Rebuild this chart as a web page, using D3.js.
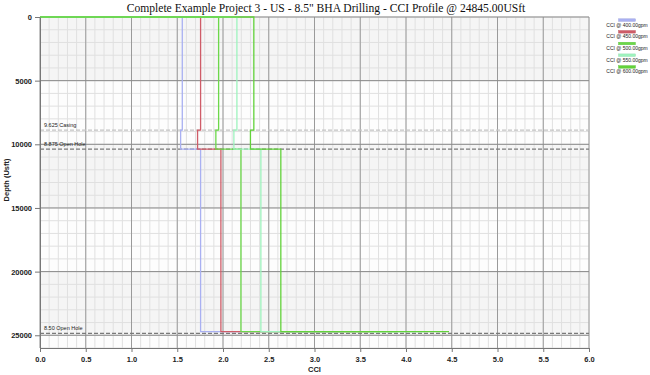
<!DOCTYPE html>
<html>
<head>
<meta charset="utf-8">
<script src="https://cdn.jsdelivr.net/npm/d3@7"></script>
<style>
  body { margin: 0; background: #fff; }
  svg { display: block; }
  .axis text { font-family: "Liberation Sans", Arial, sans-serif; font-size: 7.5px; fill: #222; }
  .axis path, .axis line { stroke: #777; }
</style>
</head>
<body>
<svg id="chart"></svg>
<script>
// flow rates (legend categories)
const flowRates = ["400.00", "450.00", "500.00", "550.00", "600.00"];
const colors = ["#a9b0f2", "#cf5c68", "#6cd84a", "#9ef3be", "#62d23a"];

// CCI per section for each flow rate
const cciSurface = [1.555, 1.755, 1.952, 2.152, 2.337];   // 0 -> casing shoe
const cciShoe    = [1.537, 1.722, 1.922, 2.119, 2.300];   // casing shoe -> 8.875 hole
const cciOpen    = [1.755, 1.977, 2.196, 2.414, 2.632];   // 8.875 -> 8.50 hole
const cciBottom  = [3.30, 3.60, 3.90, 4.20, 4.47];        // at bottom

// depths where the profile changes (USft)
const stepDepths = [0, 8880, 10380, 24720];

// hole sections
const sectionLabels = ["9.625 Casing", "8.875 Open Hole", "8.50 Open Hole"];
const sectionDepths = [8880, 10380, 24845];

const xTicks = [0, 0.5, 1, 1.5, 2, 2.5, 3, 3.5, 4, 4.5, 5, 5.5, 6];
const yTicks = [0, 5000, 10000, 15000, 20000, 25000];

let width = 650;
let height = 375;
let plot = { left: 40, right: 589, top: 17, bottom: 348 };

let svg = d3.select("#chart").attr("width", width).attr("height", height);

let xScale = d3.scaleLinear().domain([0, 6]).range([plot.left, plot.right]);
let yScale = d3.scaleLinear().domain([0, 26000]).range([plot.top, plot.bottom]);

// background bands
let bands = d3.range(0, 26000, 5000);
svg.append("g").selectAll("rect")
  .data(bands)
  .join("rect")
  .attr("x", plot.left)
  .attr("y", d => yScale(d))
  .attr("width", plot.right - plot.left)
  .attr("height", d => yScale(Math.min(d + 5000, 26000)) - yScale(d))
  .attr("fill", (d, i) => i % 2 ? "#fdfdfd" : "#f5f5f5");

// minor grid
let grid = svg.append("g");
grid.selectAll(".vminor")
  .data(xScale.ticks(60))
  .join("line")
  .attr("x1", d => xScale(d)).attr("x2", d => xScale(d))
  .attr("y1", plot.top).attr("y2", plot.bottom)
  .attr("stroke", "#e0e0e0");
grid.selectAll(".hminor")
  .data(yScale.ticks(26))
  .join("line")
  .attr("x1", plot.left).attr("x2", plot.right)
  .attr("y1", d => yScale(d)).attr("y2", d => yScale(d))
  .attr("stroke", "#e0e0e0");
// major grid
grid.selectAll(".vmajor")
  .data(xTicks)
  .join("line")
  .attr("x1", d => xScale(d)).attr("x2", d => xScale(d))
  .attr("y1", plot.top).attr("y2", plot.bottom)
  .attr("stroke", "#9a9a9a");
grid.selectAll(".hmajor")
  .data(yTicks)
  .join("line")
  .attr("x1", plot.left).attr("x2", plot.right)
  .attr("y1", d => yScale(d)).attr("y2", d => yScale(d))
  .attr("stroke", "#8a8a8a");

// hole section lines
let sections = svg.append("g");
sections.selectAll("line")
  .data(sectionDepths)
  .join("line")
  .attr("x1", plot.left).attr("x2", plot.right)
  .attr("y1", d => yScale(d)).attr("y2", d => yScale(d))
  .attr("stroke", (d, i) => i == 0 ? "#c4c4c4" : "#7a7a7a")
  .attr("stroke-width", 1.2)
  .attr("stroke-dasharray", "4,2");
sections.selectAll("text")
  .data(sectionDepths)
  .join("text")
  .attr("x", plot.left + 4)
  .attr("y", d => yScale(d) - 3)
  .attr("font-family", "Liberation Sans, Arial, sans-serif")
  .attr("font-size", 5.5)
  .attr("fill", "#222")
  .text((d, i) => sectionLabels[i]);

// CCI profiles
let line = d3.line()
  .x(d => xScale(d[0]))
  .y(d => yScale(d[1]));

flowRates.forEach((f, i) => {
  let pts = [
    [0, stepDepths[0]],
    [cciSurface[i], stepDepths[0]],
    [cciSurface[i], stepDepths[1]],
    [cciShoe[i], stepDepths[1]],
    [cciShoe[i], stepDepths[2]],
    [cciOpen[i], stepDepths[2]],
    [cciOpen[i], stepDepths[3]],
    [cciBottom[i], stepDepths[3]]
  ];
  svg.append("path")
    .datum(pts)
    .attr("d", line)
    .attr("fill", "none")
    .attr("stroke", colors[i])
    .attr("stroke-width", 1.3);
});

// axes
let xAxis = d3.axisBottom(xScale).tickValues(xTicks).tickFormat(d3.format(".1f")).tickSize(4).tickSizeOuter(0);
let yAxis = d3.axisLeft(yScale).tickValues(yTicks).tickFormat(d3.format("d")).tickSize(5).tickSizeOuter(0);

svg.append("g")
  .attr("class", "axis")
  .attr("transform", `translate(0,${plot.bottom})`)
  .call(xAxis)
  .call(g => g.selectAll("text").attr("dy", "0.9em").attr("font-weight", "bold"));

svg.append("g")
  .attr("class", "axis")
  .attr("transform", `translate(${plot.left},0)`)
  .call(yAxis)
  .call(g => g.selectAll("text").attr("font-weight", "bold"));

// title and labels
svg.append("text")
  .attr("x", 326)
  .attr("y", 12)
  .attr("text-anchor", "middle")
  .attr("font-family", "Liberation Serif, Times New Roman, serif")
  .attr("font-size", 11.6)
  .attr("fill", "#111")
  .text('Complete Example Project 3 - US - 8.5" BHA Drilling - CCI Profile @ 24845.00USft');

svg.append("text")
  .attr("x", (plot.left + plot.right) / 2)
  .attr("y", 372)
  .attr("text-anchor", "middle")
  .attr("font-family", "Liberation Sans, Arial, sans-serif")
  .attr("font-size", 7.5)
  .attr("font-weight", "bold")
  .attr("fill", "#222")
  .text("CCI");

svg.append("text")
  .attr("transform", `translate(9,180) rotate(-90)`)
  .attr("text-anchor", "middle")
  .attr("font-family", "Liberation Sans, Arial, sans-serif")
  .attr("font-size", 7.5)
  .attr("font-weight", "bold")
  .attr("fill", "#222")
  .text("Depth (Usft)");

// legend
let legend = svg.append("g").attr("transform", "translate(627,20)");
flowRates.forEach((f, i) => {
  let g = legend.append("g").attr("transform", `translate(0,${i * 11.7})`);
  g.append("rect")
    .attr("x", -8.5).attr("y", -1.2)
    .attr("width", 17).attr("height", 2.6)
    .attr("fill", colors[i])
    .attr("stroke", d3.color(colors[i]).darker(0.3))
    .attr("stroke-width", 0.4);
  g.append("text")
    .attr("x", 0).attr("y", 6.5)
    .attr("text-anchor", "middle")
    .attr("font-family", "Liberation Sans, Arial, sans-serif")
    .attr("font-size", 5)
    .attr("fill", "#222")
    .text(`CCI @ ${f}gpm`);
});
</script>
</body>
</html>
